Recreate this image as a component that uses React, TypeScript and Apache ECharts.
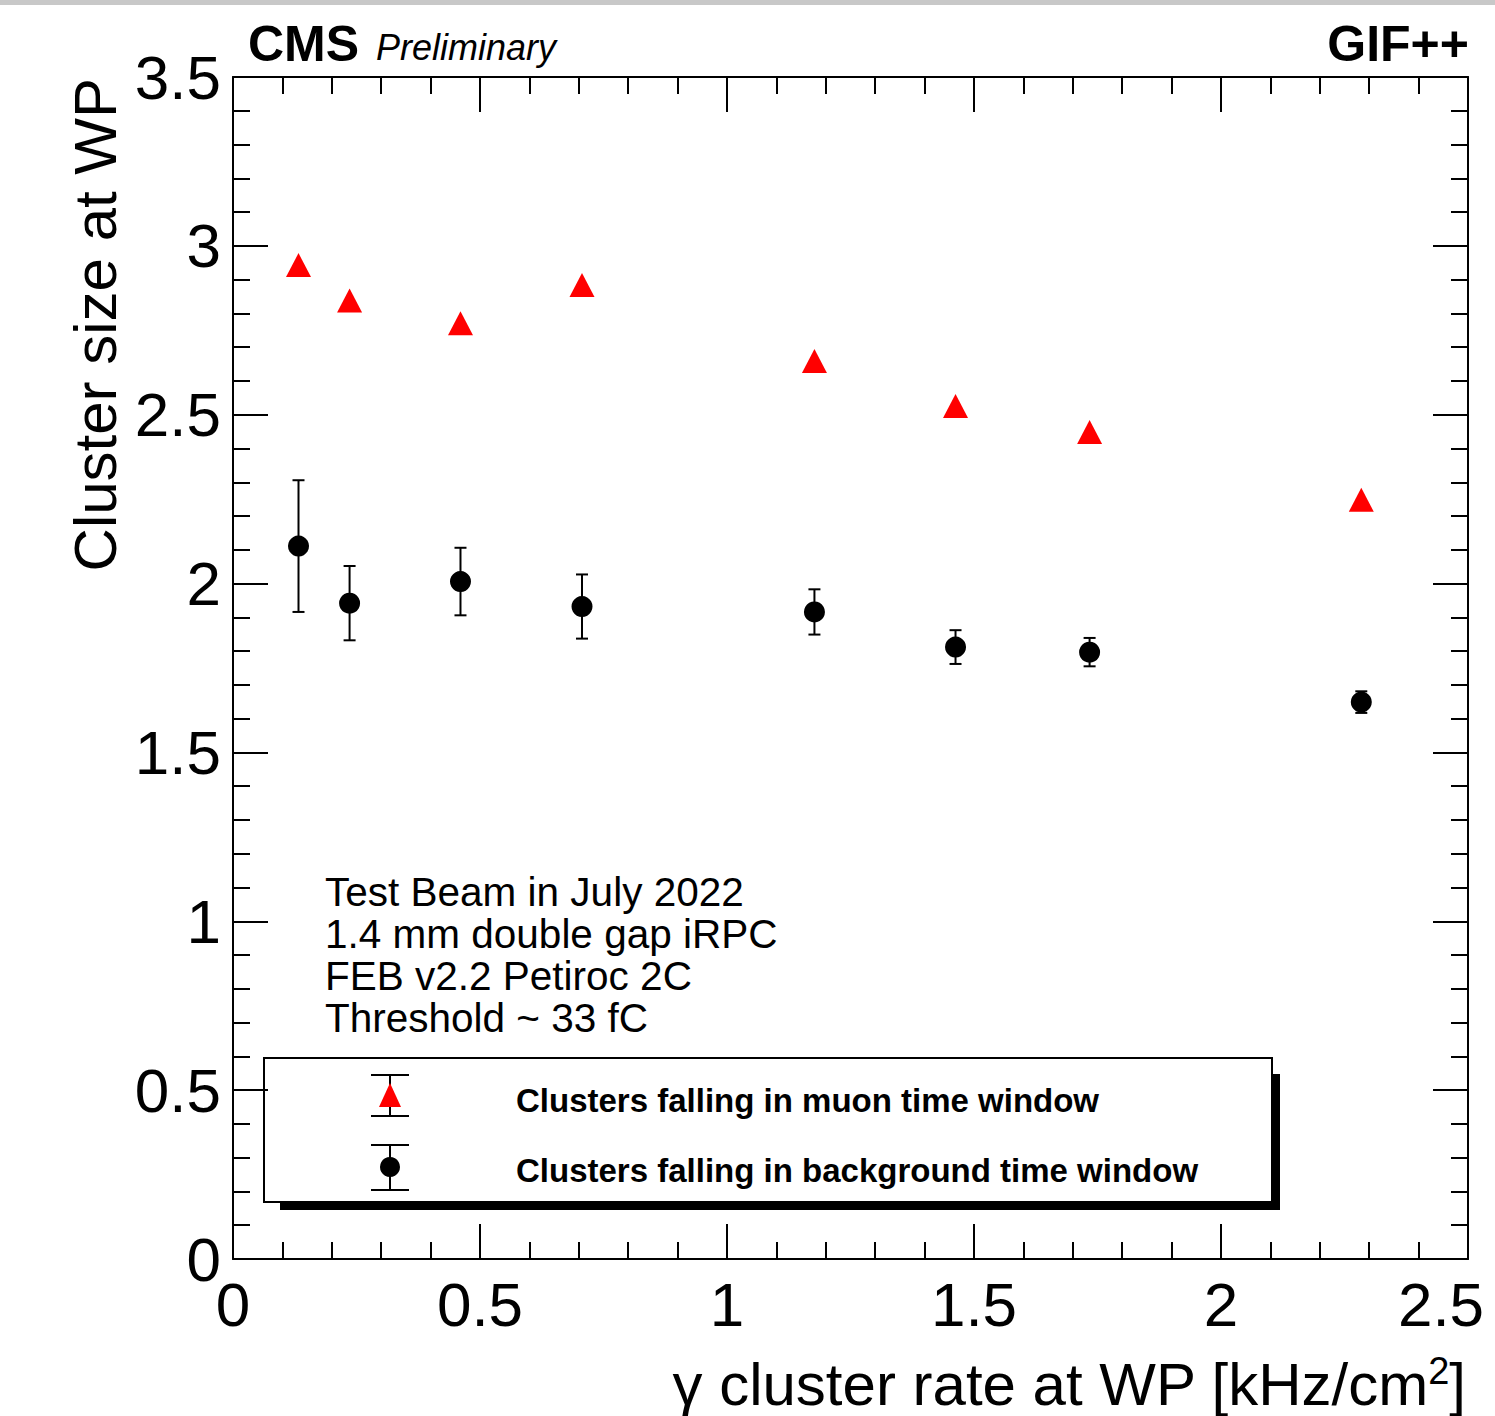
import React, { useEffect, useRef } from "react";
import * as echarts from "echarts";

const xVals = [0.1326, 0.236, 0.4605, 0.7065, 1.177, 1.4626, 1.734, 2.284];
const muonVals = [2.943, 2.838, 2.771, 2.884, 2.659, 2.526, 2.449, 2.248];
const bkgVals = [2.111, 1.942, 2.006, 1.932, 1.916, 1.812, 1.797, 1.649];
const bkgErr = [0.195, 0.11, 0.1, 0.095, 0.067, 0.05, 0.042, 0.032];
const xTicks = { min: 0, max: 2.5, interval: 0.5 };
const yTicks = { min: 0, max: 3.5, interval: 0.5 };
const infoLines = [
  "Test Beam in July 2022",
  "1.4 mm double gap iRPC",
  "FEB v2.2 Petiroc 2C",
  "Threshold ~ 33 fC",
];
const legendLabels = [
  "Clusters falling in muon time window",
  "Clusters falling in background time window",
];

const FONT = "'Liberation Sans', Arial, Helvetica, sans-serif";

export default function App() {
  const ref = useRef<HTMLDivElement>(null);
  useEffect(() => {
    document.body.style.margin = "0";
    const chart = echarts.init(ref.current!, null, { renderer: "svg" });
    const lineStyle = { color: "#000", width: 2 };
    const mkX = (pos: "bottom" | "top", labels: boolean) => ({
      type: "value",
      position: pos,
      ...xTicks,
      axisLine: { show: true, onZero: false, lineStyle },
      axisTick: { show: true, inside: true, length: 35, lineStyle },
      minorTick: { show: true, splitNumber: 5, length: 17, lineStyle },
      splitLine: { show: false },
      axisLabel: {
        show: labels,
        fontSize: 62,
        color: "#000",
        fontFamily: FONT,
        margin: 14,
        formatter: (v: number) => (v === xTicks.max ? `{m|${v}}` : `${v}`),
        rich: {
          m: { fontSize: 62, fontFamily: FONT, color: "#000", padding: [0, 54, 0, 0] },
        },
      },
    });
    const mkY = (pos: "left" | "right", labels: boolean) => ({
      type: "value",
      position: pos,
      ...yTicks,
      axisLine: { show: true, onZero: false, lineStyle },
      axisTick: { show: true, inside: true, length: 35, lineStyle },
      minorTick: { show: true, splitNumber: 5, length: 17, lineStyle },
      splitLine: { show: false },
      axisLabel: {
        show: labels,
        fontSize: 62,
        color: "#000",
        fontFamily: FONT,
        margin: 12,
      },
    });

    const errData = xVals.map((x, i) => [x, bkgVals[i], bkgErr[i]]);

    const graphics: any[] = [
      { type: "rect", shape: { x: 0, y: 0, width: 1495, height: 5 }, style: { fill: "#c8c8c8" } },
      {
        type: "text",
        x: 248,
        y: 44,
        style: { text: "CMS", font: `bold 50px ${FONT}`, fill: "#000", textVerticalAlign: "middle" },
      },
      {
        type: "text",
        x: 376,
        y: 47,
        style: { text: "Preliminary", font: `italic 36px ${FONT}`, fill: "#000", textVerticalAlign: "middle" },
      },
      {
        type: "text",
        x: 1469,
        y: 44,
        style: { text: "GIF++", font: `bold 50px ${FONT}`, fill: "#000", textAlign: "right", textVerticalAlign: "middle" },
      },
      {
        type: "text",
        x: 95,
        y: 78,
        rotation: Math.PI / 2,
        style: {
          text: "Cluster size at WP",
          font: `60px ${FONT}`,
          fill: "#000",
          textAlign: "right",
          textVerticalAlign: "middle",
        },
      },
      {
        type: "text",
        x: 1466,
        y: 1414,
        style: {
          text: "{a|γ cluster rate at WP [kHz/cm}{s|2}{a|]}",
          fill: "#000",
          textAlign: "right",
          textVerticalAlign: "bottom",
          rich: {
            a: { fontSize: 60, lineHeight: 62, fontFamily: FONT, fill: "#000", verticalAlign: "bottom" },
            s: { fontSize: 38, lineHeight: 38, fontFamily: FONT, fill: "#000", verticalAlign: "top" },
          },
        },
      },
      ...infoLines.map((t, i) => ({
        type: "text",
        x: 325,
        y: 892 + i * 42,
        style: { text: t, font: `40.5px ${FONT}`, fill: "#000", textVerticalAlign: "middle" },
      })),
      // legend shadow and box
      { type: "rect", shape: { x: 280, y: 1074, width: 1000, height: 136 }, style: { fill: "#000" } },
      {
        type: "rect",
        shape: { x: 264, y: 1058, width: 1008, height: 144 },
        style: { fill: "#fff", stroke: "#000", lineWidth: 2 },
      },
      // legend entry 1
      { type: "line", shape: { x1: 390, y1: 1075, x2: 390, y2: 1116 }, style: { stroke: "#000", lineWidth: 2 } },
      { type: "line", shape: { x1: 371, y1: 1075, x2: 409, y2: 1075 }, style: { stroke: "#000", lineWidth: 2 } },
      { type: "line", shape: { x1: 371, y1: 1116, x2: 409, y2: 1116 }, style: { stroke: "#000", lineWidth: 2 } },
      {
        type: "polygon",
        shape: { points: [[379, 1107], [401, 1107], [390, 1083]] },
        style: { fill: "#ff0000" },
      },
      // legend entry 2
      { type: "line", shape: { x1: 390, y1: 1145, x2: 390, y2: 1190 }, style: { stroke: "#000", lineWidth: 2 } },
      { type: "line", shape: { x1: 371, y1: 1145, x2: 409, y2: 1145 }, style: { stroke: "#000", lineWidth: 2 } },
      { type: "line", shape: { x1: 371, y1: 1190, x2: 409, y2: 1190 }, style: { stroke: "#000", lineWidth: 2 } },
      { type: "circle", shape: { cx: 390, cy: 1167, r: 10 }, style: { fill: "#000" } },
      ...legendLabels.map((t, i) => ({
        type: "text",
        x: 516,
        y: 1100 + i * 70,
        style: { text: t, font: `bold 33px ${FONT}`, fill: "#000", textVerticalAlign: "middle" },
      })),
    ];

    chart.setOption({
      animation: false,
      backgroundColor: "#fff",
      grid: {
        left: 233,
        top: 77,
        right: 27,
        bottom: 157,
        containLabel: false,
        outerBoundsMode: "none",
      },
      xAxis: [mkX("bottom", true), mkX("top", false)],
      yAxis: [mkY("left", true), mkY("right", false)],
      series: [
        {
          type: "custom",
          xAxisIndex: 0,
          yAxisIndex: 0,
          data: errData,
          z: 2,
          renderItem: (params: any, api: any) => {
            const x = api.value(0);
            const y = api.value(1);
            const e = api.value(2);
            const top = api.coord([x, y + e]);
            const bot = api.coord([x, y - e]);
            const cx = top[0];
            const w = 6;
            const st = { stroke: "#000", lineWidth: 2 };
            return {
              type: "group",
              children: [
                { type: "line", shape: { x1: cx, y1: top[1], x2: cx, y2: bot[1] }, style: st },
                { type: "line", shape: { x1: cx - w, y1: top[1], x2: cx + w, y2: top[1] }, style: st },
                { type: "line", shape: { x1: cx - w, y1: bot[1], x2: cx + w, y2: bot[1] }, style: st },
              ],
            };
          },
        },
        {
          type: "scatter",
          name: legendLabels[0],
          data: xVals.map((x, i) => [x, muonVals[i]]),
          symbol: "triangle",
          symbolSize: [25, 24],
          itemStyle: { color: "#ff0000", opacity: 1 },
          z: 3,
        },
        {
          type: "scatter",
          name: legendLabels[1],
          data: xVals.map((x, i) => [x, bkgVals[i]]),
          symbol: "circle",
          symbolSize: 21,
          itemStyle: { color: "#000", opacity: 1 },
          z: 3,
        },
      ],
      graphic: graphics,
    });
    return () => chart.dispose();
  }, []);
  return <div ref={ref} style={{ width: 1495, height: 1416 }} />;
}
